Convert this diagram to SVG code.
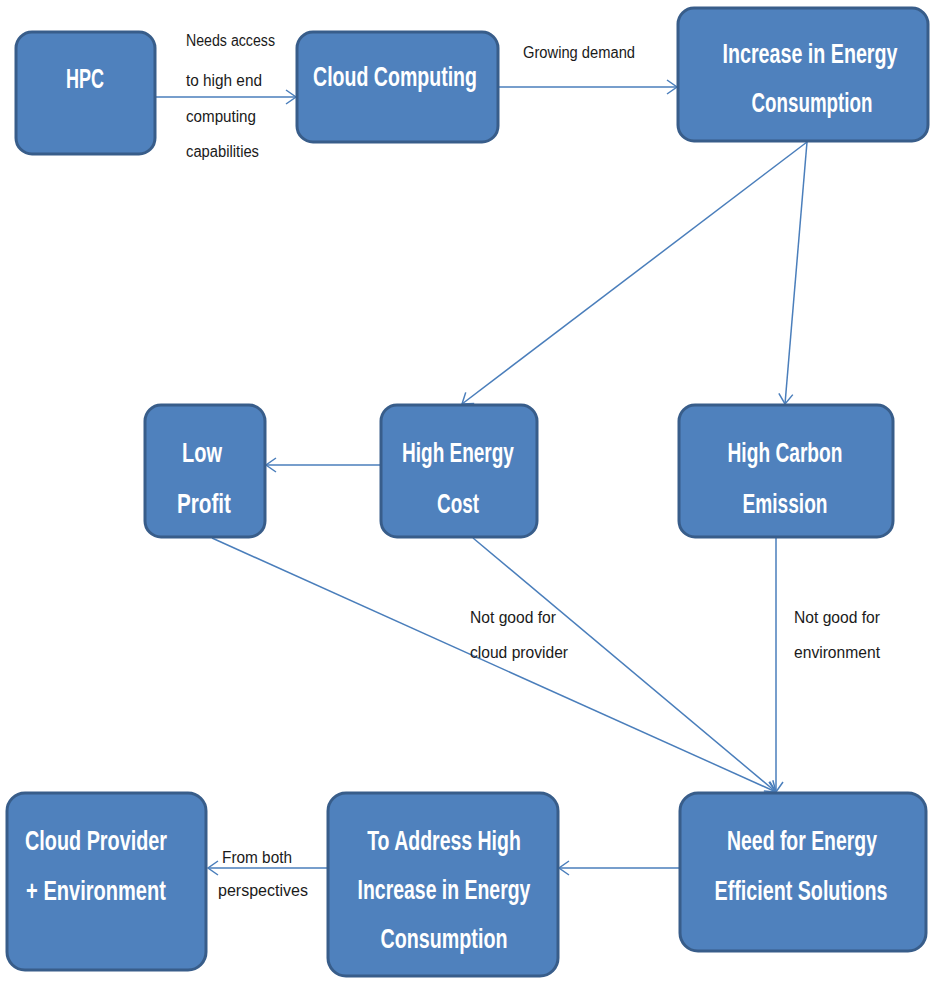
<svg xmlns="http://www.w3.org/2000/svg" width="933" height="983" viewBox="0 0 933 983">
  <style>
    .box { fill: #4F81BD; stroke: #385D8A; stroke-width: 3; }
    .nt { font-family: "Liberation Sans", Arial, sans-serif; font-size: 27px; font-weight: bold; fill: #FFFFFF; text-anchor: middle; }
    .lbl { font-family: "Liberation Sans", Arial, sans-serif; font-size: 16px; fill: #1A1A1A; }
    .edge { stroke: #4A7EBB; stroke-width: 1.5; fill: none; marker-end: url(#arrow); }
  </style>
  <defs>
    <marker id="arrow" markerUnits="userSpaceOnUse" markerWidth="14" markerHeight="16" refX="11" refY="8" orient="auto">
      <path d="M1,1 L11,8 L1,15" fill="none" stroke="#4A7EBB" stroke-width="1.5"/>
    </marker>
  </defs>
  <rect width="933" height="983" fill="#FFFFFF"/>

  <!-- connectors -->
  <g id="connectors">
    <line class="edge" x1="155" y1="97" x2="296" y2="97"/>
    <line class="edge" x1="499" y1="87" x2="677" y2="87"/>
    <line class="edge" x1="807" y1="142" x2="462" y2="404"/>
    <line class="edge" x1="807" y1="142" x2="785" y2="404"/>
    <line class="edge" x1="381" y1="465" x2="266" y2="465"/>
    <line class="edge" x1="212" y1="538" x2="776" y2="792"/>
    <line class="edge" x1="473" y1="538" x2="776" y2="792"/>
    <line class="edge" x1="776" y1="538" x2="776" y2="792"/>
    <line class="edge" x1="680" y1="868" x2="559" y2="868"/>
    <line class="edge" x1="328" y1="868" x2="208" y2="868"/>
  </g>

  <!-- connector labels -->
  <g id="labels">
    <text class="lbl" x="186" y="46" textLength="89" lengthAdjust="spacingAndGlyphs">Needs access</text>
    <text class="lbl" x="186" y="86" textLength="76" lengthAdjust="spacingAndGlyphs">to high end</text>
    <text class="lbl" x="186" y="122" textLength="70" lengthAdjust="spacingAndGlyphs">computing</text>
    <text class="lbl" x="186" y="157" textLength="73" lengthAdjust="spacingAndGlyphs">capabilities</text>
    <text class="lbl" x="523" y="58" textLength="112" lengthAdjust="spacingAndGlyphs">Growing demand</text>
    <text class="lbl" x="470" y="623" textLength="86" lengthAdjust="spacingAndGlyphs">Not good for</text>
    <text class="lbl" x="470" y="658" textLength="98" lengthAdjust="spacingAndGlyphs">cloud provider</text>
    <text class="lbl" x="794" y="623" textLength="86" lengthAdjust="spacingAndGlyphs">Not good for</text>
    <text class="lbl" x="794" y="658" textLength="86" lengthAdjust="spacingAndGlyphs">environment</text>
    <text class="lbl" x="222" y="863" textLength="70" lengthAdjust="spacingAndGlyphs">From both</text>
    <text class="lbl" x="218" y="896" textLength="90" lengthAdjust="spacingAndGlyphs">perspectives</text>
  </g>

  <!-- node titles are set in a horizontally condensed bold face -->
  <g id="hpc">
    <rect class="box" x="16" y="32" width="139" height="122" rx="16"/>
    <text class="nt" transform="translate(85,88) scale(0.667,1)">HPC</text>
  </g>
  <g id="cloud-computing">
    <rect class="box" x="297" y="32" width="201" height="110" rx="16"/>
    <text class="nt" transform="translate(395,86) scale(0.724,1)">Cloud Computing</text>
  </g>
  <g id="increase-energy">
    <rect class="box" x="678" y="8" width="250" height="133" rx="16"/>
    <text class="nt" transform="translate(810,63) scale(0.729,1)">Increase in Energy</text>
    <text class="nt" transform="translate(812,112) scale(0.695,1)">Consumption</text>
  </g>
  <g id="low-profit">
    <rect class="box" x="145" y="405" width="120" height="132" rx="16"/>
    <text class="nt" transform="translate(202,462) scale(0.741,1)">Low</text>
    <text class="nt" transform="translate(204,513) scale(0.766,1)">Profit</text>
  </g>
  <g id="high-energy-cost">
    <rect class="box" x="381" y="405" width="156" height="132" rx="16"/>
    <text class="nt" transform="translate(458,462) scale(0.704,1)">High Energy</text>
    <text class="nt" transform="translate(458,513) scale(0.70,1)">Cost</text>
  </g>
  <g id="high-carbon">
    <rect class="box" x="679" y="405" width="214" height="132" rx="16"/>
    <text class="nt" transform="translate(785,462) scale(0.71,1)">High Carbon</text>
    <text class="nt" transform="translate(785,513) scale(0.708,1)">Emission</text>
  </g>
  <g id="cloud-provider-env">
    <rect class="box" x="7" y="793" width="199" height="177" rx="18"/>
    <text class="nt" transform="translate(96,850) scale(0.734,1)">Cloud Provider</text>
    <text class="nt" transform="translate(96,900) scale(0.743,1)">+ Environment</text>
  </g>
  <g id="address-increase">
    <rect class="box" x="328" y="793" width="230" height="183" rx="18"/>
    <text class="nt" transform="translate(444,850) scale(0.722,1)">To Address High</text>
    <text class="nt" transform="translate(444,899) scale(0.72,1)">Increase in Energy</text>
    <text class="nt" transform="translate(444,948) scale(0.73,1)">Consumption</text>
  </g>
  <g id="need-efficient">
    <rect class="box" x="680" y="793" width="246" height="158" rx="18"/>
    <text class="nt" transform="translate(802,850) scale(0.719,1)">Need for Energy</text>
    <text class="nt" transform="translate(801,900) scale(0.73,1)">Efficient Solutions</text>
  </g>
</svg>
